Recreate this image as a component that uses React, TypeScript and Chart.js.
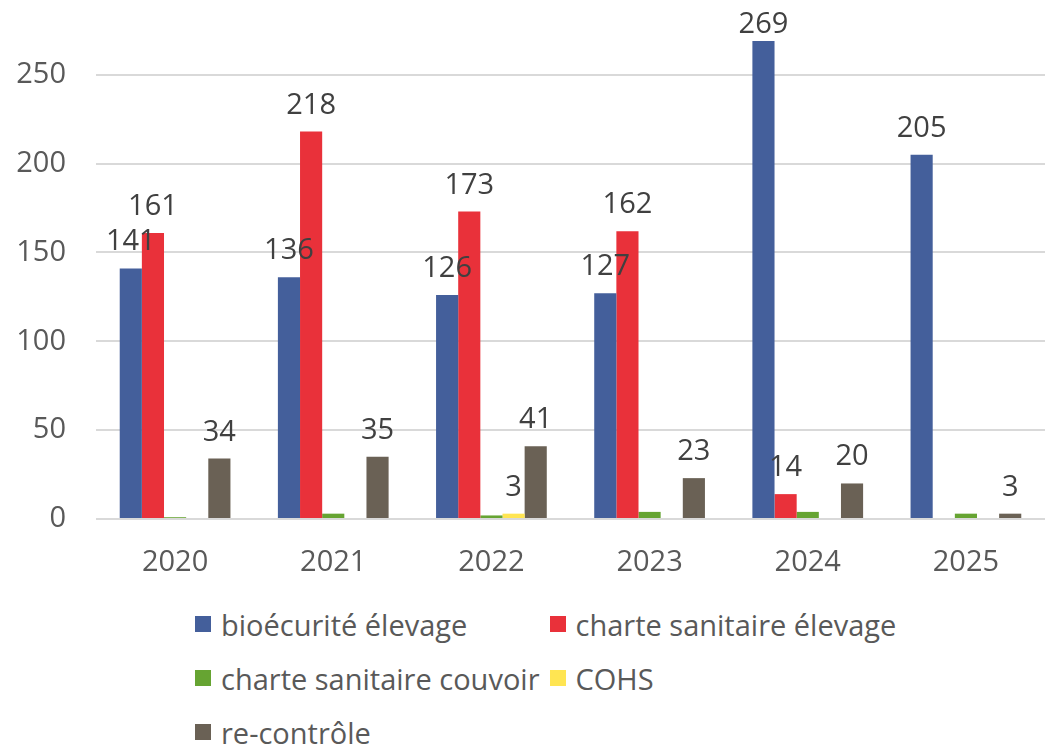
import React, { useEffect, useRef } from "react";
import { Chart, registerables } from "chart.js";

Chart.register(...registerables);

const categories = ["2020", "2021", "2022", "2023", "2024", "2025"];
const seriesNames = [
  "bioécurité élevage",
  "charte sanitaire élevage",
  "charte sanitaire couvoir",
  "COHS",
  "re-contrôle",
];
const biosecurite = [141, 136, 126, 127, 269, 205];
const charteElevage = [161, 218, 173, 162, 14, 0];
const charteCouvoir = [1, 3, 2, 4, 4, 3];
const cohs = [0, 0, 3, 0, 0, 0];
const recontrole = [34, 35, 41, 23, 20, 3];
const seriesColors = ["#445F9B", "#E9313A", "#66A432", "#FFE552", "#6A6155"];
const labelledSeries = [true, true, false, true, true];
const yTicks = [0, 50, 100, 150, 200, 250];

const FONT = "'Open Sans', sans-serif";

const dataLabelPlugin = {
  id: "dataLabels",
  afterDatasetsDraw(chart: any) {
    const { ctx } = chart;
    ctx.save();
    ctx.font = `29px ${FONT}`;
    ctx.fillStyle = "#404040";
    ctx.textAlign = "center";
    ctx.textBaseline = "alphabetic";
    chart.data.datasets.forEach((ds: any, di: number) => {
      if (!labelledSeries[di]) return;
      const meta = chart.getDatasetMeta(di);
      meta.data.forEach((bar: any, i: number) => {
        const v = ds.data[i];
        if (!v) return;
        const y = Math.max(bar.y - 18, 33);
        ctx.fillText(String(v), bar.x, y);
      });
    });
    ctx.restore();
  },
};

export default function App() {
  const ref = useRef<HTMLCanvasElement>(null);
  useEffect(() => {
    if (!ref.current) return;
    const seriesData = [biosecurite, charteElevage, charteCouvoir, cohs, recontrole];
    const chart = new Chart(ref.current, {
      type: "bar",
      data: {
        labels: categories,
        datasets: seriesNames.map((name, i) => ({
          label: name,
          data: seriesData[i],
          backgroundColor: seriesColors[i],
          borderWidth: 0,
          categoryPercentage: 0.7,
          barPercentage: 1,
        })),
      },
      options: {
        animation: false,
        responsive: true,
        maintainAspectRatio: false,
        layout: { padding: { top: 25, left: 0, right: 0, bottom: 0 } },
        plugins: {
          legend: { display: false },
          tooltip: { enabled: false },
        },
        scales: {
          x: {
            grid: { display: false, drawTicks: false },
            border: { display: false },
            ticks: {
              color: "#595959",
              font: { family: FONT, size: 29 },
              padding: 26,
            },
            afterFit: (axis: any) => {
              axis.height = 71;
            },
          },
          y: {
            min: 0,
            max: 278,
            afterBuildTicks: (axis: any) => {
              axis.ticks = yTicks.map((v) => ({ value: v }));
            },
            afterFit: (axis: any) => {
              axis.width = 96;
              axis.paddingTop = 0;
            },
            grid: { color: "#d9d9d9", lineWidth: 2, drawTicks: false },
            border: { display: false },
            ticks: {
              color: "#595959",
              font: { family: FONT, size: 29 },
              padding: 30,
            },
          },
        },
      },
      plugins: [dataLabelPlugin],
    });
    return () => chart.destroy();
  }, []);

  return (
    <div style={{ position: "absolute", left: 0, top: 0, width: 1045, height: 745, background: "#fff", overflow: "hidden" }}>
      <div style={{ position: "absolute", left: 0, top: 0, width: 1045, height: 590 }}>
        <canvas ref={ref} />
      </div>
      <div
        style={{
          position: "absolute",
          left: 195,
          top: 597,
          display: "grid",
          gridTemplateColumns: "auto auto",
          columnGap: 10,
          fontFamily: FONT,
          fontSize: 29,
          color: "#595959",
        }}
      >
        {seriesNames.map((name, i) => (
          <div key={name} style={{ display: "flex", alignItems: "center", height: 54, whiteSpace: "nowrap" }}>
            <span style={{ display: "inline-block", width: 16, height: 16, background: seriesColors[i], marginRight: 10 }} />
            <span>{name}</span>
          </div>
        ))}
      </div>
    </div>
  );
}
